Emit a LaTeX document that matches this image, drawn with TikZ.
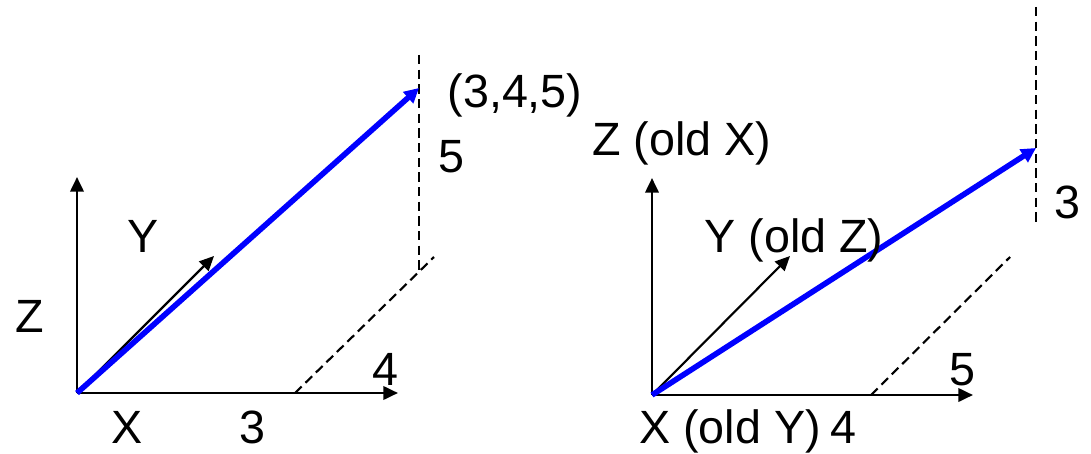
\documentclass[tikz,border=0pt]{standalone}
\usepackage{fontspec}
\setmainfont{Liberation Sans}
\usetikzlibrary{arrows.meta}
\begin{document}
\begin{tikzpicture}[x=0.75pt,y=-0.75pt,
  axis/.style={line width=2pt,-{Triangle[length=11pt,width=10pt]}},
  vec/.style={line width=4.2pt,draw={rgb,255:red,0;green,0;blue,255},-{Triangle[length=11pt,width=11pt]}},
  guide/.style={line width=1.6pt,dash pattern=on 7pt off 4pt},
  lbl/.style={inner sep=0pt,anchor=base,font=\fontsize{35}{42}\selectfont}]
\useasboundingbox (0,0) rectangle (1091,453);
% left diagram
\coordinate (oA) at (77,393);
\coordinate (zA) at (77,177);
\coordinate (xA) at (398,393);
\coordinate (yA) at (214,256);
\coordinate (pA) at (419,88);
\coordinate (topA) at (419,55);
\coordinate (cA) at (419,270);
\coordinate (dA1) at (295,393);
\coordinate (dA2) at (434,257);
\draw[axis] (oA) -- (zA);
\draw[axis] (oA) -- (xA);
\draw[axis,line width=1.6pt] (oA) -- (yA);
\draw[guide] (topA) -- (cA);
\draw[guide] (dA1) -- (dA2);
\draw[vec] (oA) -- (pA);
\node[lbl] (lY) at (143,252) {Y};
\node[lbl] (lZ) at (30,332) {Z};
\node[lbl] (lX) at (127,443) {X};
\node[lbl] (l3) at (252,443) {3};
\node[lbl] (l4) at (385,385) {4};
\node[lbl] (l5) at (451,172) {5};
\node[lbl] (lP) at (515,107) {(3,4,5)};
% right diagram
\coordinate (oB) at (652,395);
\coordinate (zB) at (652,178);
\coordinate (xB) at (973,395);
\coordinate (yB) at (790,256);
\coordinate (pB) at (1036,148);
\coordinate (topB) at (1036,7);
\coordinate (botB) at (1036,222);
\coordinate (dB1) at (871,395);
\coordinate (dB2) at (1010,257);
\draw[axis] (oB) -- (zB);
\draw[axis] (oB) -- (xB);
\draw[axis,line width=1.6pt] (oB) -- (yB);
\draw[guide] (topB) -- (botB);
\draw[guide] (dB1) -- (dB2);
\draw[vec] (oB) -- (pB);
\node[lbl] (rZ) at (682,155) {Z (old X)};
\node[lbl] (rY) at (794,252) {Y (old Z)};
\node[lbl] (r3) at (1067,218) {3};
\node[lbl] (r5) at (962,385) {5};
\node[lbl] (rX) at (730,443) {X (old Y)};
\node[lbl] (r4) at (843,443) {4};
\end{tikzpicture}
\end{document}
